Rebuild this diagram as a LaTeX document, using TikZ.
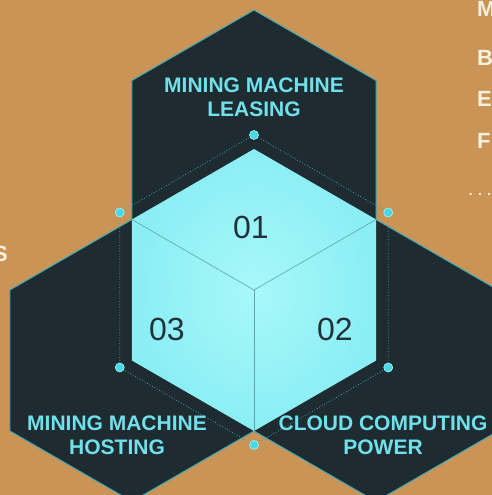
\documentclass[tikz,border=0pt]{standalone}
\usepackage{fontspec}
\setmainfont{Liberation Sans}
\usetikzlibrary{positioning, calc, shapes.geometric}

\definecolor{bgtan}{RGB}{202,148,86}
\definecolor{hexdark}{RGB}{30,44,50}
\definecolor{hexrim}{RGB}{70,170,180}
\definecolor{cubein}{RGB}{168,248,250}
\definecolor{cubeout}{RGB}{138,238,244}
\definecolor{labelcyan}{RGB}{112,224,234}
\definecolor{numdark}{RGB}{35,50,58}
\definecolor{dotcyan}{RGB}{72,216,232}
\definecolor{sidecream}{RGB}{248,240,222}

\begin{document}
\begin{tikzpicture}[x=1pt, y=-1pt,
    hexcell/.style={regular polygon, regular polygon sides=6, shape border rotate=30, inner sep=0pt, minimum size=282pt},
    darkhex/.style={hexcell, fill=hexdark, draw=hexrim, line width=1pt},
    cubehex/.style={hexcell, inner color=cubein, outer color=cubeout},
    ringhex/.style={hexcell, minimum size=310pt, draw=dotcyan!70!hexdark, dotted, line width=0.8pt},
    cubeedge/.style={draw=cubeout!60!numdark, line width=0.6pt},
    cornerdot/.style={fill=dotcyan, draw=cubein, line width=0.6pt},
    service/.style={text=labelcyan, font=\bfseries\fontsize{21}{24}\selectfont, align=center},
    number/.style={text=numdark, font=\fontsize{32}{36}\selectfont},
    sidetext/.style={text=sidecream, font=\bfseries\fontsize{22}{26}\selectfont, inner sep=0pt}
]
    % background
    \fill[bgtan] (0,0) rectangle (492,495);
    \useasboundingbox (0,0) rectangle (492,495);

    % three dark hexagons
    \node[darkhex] (leasehex) at (254,151) {};
    \node[darkhex] (hosthex) at (132,360.5) {};
    \node[darkhex] (cloudhex) at (376,360.5) {};

    % dotted ring round the cube
    \node[ringhex] (ring) at (254,290) {};

    % cube - light cyan
    \node[cubehex] (cube) at (254,290) {};
    \coordinate (upleft) at ($(cube.center)+(210:141)$);
    \coordinate (upright) at ($(cube.center)+(330:141)$);
    \coordinate (bottom) at ($(cube.center)+(90:141)$);
    \draw[cubeedge] (cube.center) -- (upleft);
    \draw[cubeedge] (cube.center) -- (upright);
    \draw[cubeedge] (cube.center) -- (bottom);

    % dots on the ring
    \foreach \a in {30,90,...,330}
        \filldraw[cornerdot] ($(ring.center)+(\a:155)$) circle (4.5);

    % numbers
    \node[number] (one) at (251,227) {01};
    \node[number] (three) at (167,329) {03};
    \node[number] (two) at (335,329) {02};

    % service labels
    \node[service] (leasing) at (254,97) {MINING MACHINE\\LEASING};
    \node[service] (hosting) at (117,435) {MINING MACHINE\\HOSTING};
    \node[service] (cloud) at (383,435) {CLOUD COMPUTING\\POWER};

    % cut text at the edges
    \node[sidetext, anchor=west] (sidem) at (477,9) {M};
    \node[sidetext, anchor=west] (sideb) at (477,58) {B};
    \node[sidetext, anchor=west] (sidee) at (477,99) {E};
    \node[sidetext, anchor=west] (sidef) at (477,141) {F};
    \node[text=sidecream, font=\bfseries\fontsize{14}{16}\selectfont, inner sep=0pt] (sidedots) at (480,194) {. . .};
    \node[sidetext, anchor=east] (sides) at (8,254) {S};
\end{tikzpicture}
\end{document}
